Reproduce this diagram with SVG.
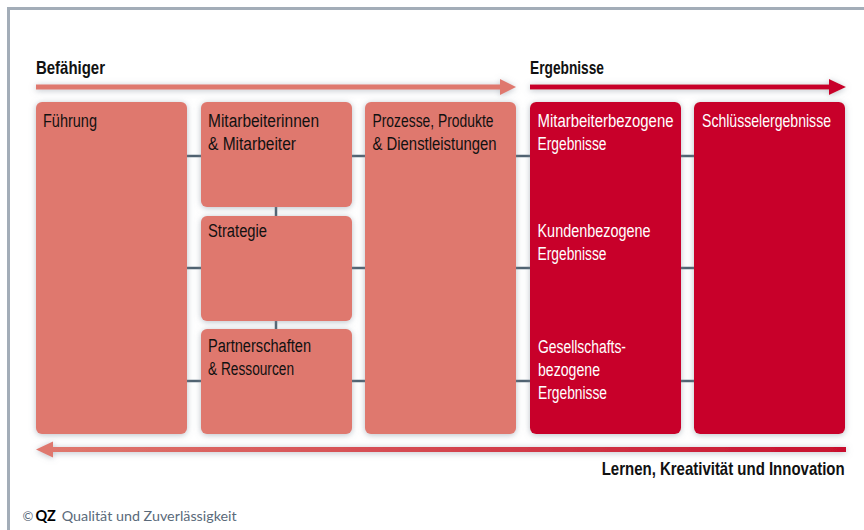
<svg xmlns="http://www.w3.org/2000/svg" width="864" height="530" viewBox="0 0 864 530">
<defs>
<filter id="sh" x="-20%" y="-20%" width="140%" height="140%">
<feDropShadow dx="0" dy="1" stdDeviation="3" flood-color="#7f8b98" flood-opacity="0.55"/>
</filter>
<linearGradient id="lg" x1="0" y1="0" x2="1" y2="0">
<stop offset="0" stop-color="#df786e"/>
<stop offset="1" stop-color="#c8102e"/>
</linearGradient>
<style>
.t{font-family:"Liberation Sans",Arial,sans-serif;font-size:18px;fill:#111}
.w{fill:#fff}
.b{font-weight:bold;font-size:18.5px}
.en{fill:#df786e}
.er{fill:#c8002a}
.c{stroke:#4f6170;stroke-width:2.5}
</style>
</defs>
<rect width="864" height="530" fill="#fff"/>
<path d="M8.5 530 V8.5 H864" fill="none" stroke="#a3adb8" stroke-width="3"/>
<text class="t b" x="36" y="74" textLength="69" lengthAdjust="spacingAndGlyphs">Befähiger</text>
<text class="t b" x="530" y="74" textLength="74" lengthAdjust="spacingAndGlyphs">Ergebnisse</text>
<g filter="url(#sh)">
<rect x="36" y="84.5" width="466" height="5" fill="#df786e"/>
<path d="M500 79 L516 87 L500 95 Z" fill="#df786e"/>
<rect x="530" y="84.5" width="302" height="5" fill="#c8002a"/>
<path d="M829 79 L846 87 L829 95 Z" fill="#c8002a"/>
<rect x="50" y="447" width="796" height="5" fill="url(#lg)"/>
<path d="M53 441.5 L36 449.5 L53 457.5 Z" fill="#df786e"/>
</g>
<g id="connectors">
<line class="c" x1="187" y1="156" x2="201" y2="156"/>
<line class="c" x1="187" y1="268" x2="201" y2="268"/>
<line class="c" x1="187" y1="381" x2="201" y2="381"/>
<line class="c" x1="351" y1="156" x2="365" y2="156"/>
<line class="c" x1="351" y1="268" x2="365" y2="268"/>
<line class="c" x1="351" y1="381" x2="365" y2="381"/>
<line class="c" x1="516" y1="156" x2="530" y2="156"/>
<line class="c" x1="516" y1="268" x2="530" y2="268"/>
<line class="c" x1="516" y1="381" x2="530" y2="381"/>
<line class="c" x1="681" y1="156" x2="694" y2="156"/>
<line class="c" x1="681" y1="268" x2="694" y2="268"/>
<line class="c" x1="681" y1="381" x2="694" y2="381"/>
<line class="c" x1="276" y1="207" x2="276" y2="216"/>
<line class="c" x1="276" y1="321" x2="276" y2="329"/>
</g>
<g id="fuehrung">
<rect class="en" filter="url(#sh)" x="36" y="102" width="151" height="332" rx="6"/>
<text class="t" x="43" y="127" textLength="54" lengthAdjust="spacingAndGlyphs">Führung</text>
</g>
<g id="mitarbeiter">
<rect class="en" filter="url(#sh)" x="201" y="102" width="151" height="105" rx="6"/>
<text class="t" x="208" y="127" textLength="111" lengthAdjust="spacingAndGlyphs">Mitarbeiterinnen</text>
<text class="t" x="208" y="150" textLength="88" lengthAdjust="spacingAndGlyphs">&amp; Mitarbeiter</text>
</g>
<g id="strategie">
<rect class="en" filter="url(#sh)" x="201" y="216" width="151" height="105" rx="6"/>
<text class="t" x="208" y="237" textLength="59" lengthAdjust="spacingAndGlyphs">Strategie</text>
</g>
<g id="partner">
<rect class="en" filter="url(#sh)" x="201" y="329" width="151" height="105" rx="6"/>
<text class="t" x="208" y="352" textLength="103" lengthAdjust="spacingAndGlyphs">Partnerschaften</text>
<text class="t" x="208" y="375" textLength="86" lengthAdjust="spacingAndGlyphs">&amp; Ressourcen</text>
</g>
<g id="prozesse">
<rect class="en" filter="url(#sh)" x="365" y="102" width="151" height="332" rx="6"/>
<text class="t" x="372.5" y="127" textLength="121" lengthAdjust="spacingAndGlyphs">Prozesse, Produkte</text>
<text class="t" x="372.5" y="150" textLength="124" lengthAdjust="spacingAndGlyphs">&amp; Dienstleistungen</text>
</g>
<g id="ergebnisse">
<rect class="er" filter="url(#sh)" x="530" y="102" width="151" height="332" rx="6"/>
<text class="t w" x="537.5" y="127" textLength="136" lengthAdjust="spacingAndGlyphs">Mitarbeiterbezogene</text>
<text class="t w" x="537.5" y="150" textLength="69" lengthAdjust="spacingAndGlyphs">Ergebnisse</text>
<text class="t w" x="537.5" y="237" textLength="113" lengthAdjust="spacingAndGlyphs">Kundenbezogene</text>
<text class="t w" x="537.5" y="260" textLength="69" lengthAdjust="spacingAndGlyphs">Ergebnisse</text>
<text class="t w" x="538" y="353" textLength="88" lengthAdjust="spacingAndGlyphs">Gesellschafts-</text>
<text class="t w" x="538" y="376" textLength="62" lengthAdjust="spacingAndGlyphs">bezogene</text>
<text class="t w" x="538" y="399" textLength="69" lengthAdjust="spacingAndGlyphs">Ergebnisse</text>
</g>
<g id="schluessel">
<rect class="er" filter="url(#sh)" x="694" y="102" width="151" height="332" rx="6"/>
<text class="t w" transform="translate(702 127) scale(0.78 1)" textLength="165.4" lengthAdjust="spacingAndGlyphs">Schlüsselergebnisse</text>
</g>
<text class="t b" transform="translate(601.7 475) scale(0.78 1)" textLength="311.5" lengthAdjust="spacingAndGlyphs">Lernen, Kreativität und Innovation</text>
<text x="22.5" y="521" font-family="Lato,sans-serif" font-size="13" fill="#5a6a7a">©</text>
<text x="35.5" y="521" font-family="Lato,sans-serif" font-size="14.5" font-weight="bold" fill="#000">QZ</text>
<text x="61.7" y="521" font-family="Lato,sans-serif" font-size="14.3" fill="#5a6a7a" textLength="175" lengthAdjust="spacingAndGlyphs">Qualität und Zuverlässigkeit</text>
</svg>
